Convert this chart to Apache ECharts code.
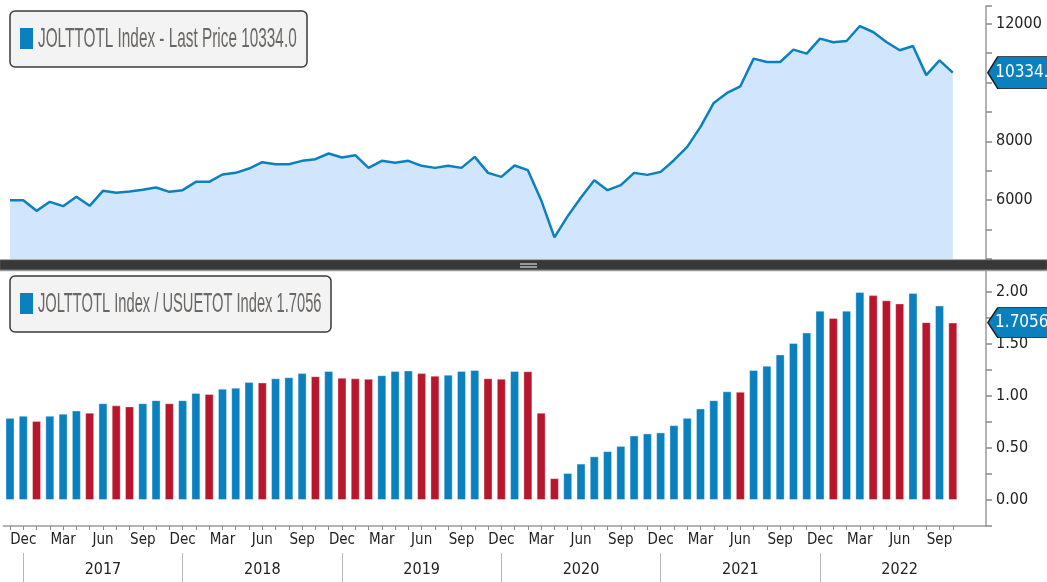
<!DOCTYPE html>
<html>
<head>
<meta charset="utf-8">
<script src="https://cdn.jsdelivr.net/npm/echarts@6.0.0/dist/echarts.min.js"></script>
<style>
	html, body { margin: 0; padding: 0; background: #fff; }
	#chart { width: 1047px; height: 582px; }
</style>
</head>
<body>
<div id="chart"></div>
<script>
	// months on the x axis (last two are empty room before the right axis)
	const months = [
		'2016-11', '2016-12',
		'2017-01', '2017-02', '2017-03', '2017-04', '2017-05', '2017-06', '2017-07', '2017-08', '2017-09', '2017-10', '2017-11', '2017-12',
		'2018-01', '2018-02', '2018-03', '2018-04', '2018-05', '2018-06', '2018-07', '2018-08', '2018-09', '2018-10', '2018-11', '2018-12',
		'2019-01', '2019-02', '2019-03', '2019-04', '2019-05', '2019-06', '2019-07', '2019-08', '2019-09', '2019-10', '2019-11', '2019-12',
		'2020-01', '2020-02', '2020-03', '2020-04', '2020-05', '2020-06', '2020-07', '2020-08', '2020-09', '2020-10', '2020-11', '2020-12',
		'2021-01', '2021-02', '2021-03', '2021-04', '2021-05', '2021-06', '2021-07', '2021-08', '2021-09', '2021-10', '2021-11', '2021-12',
		'2022-01', '2022-02', '2022-03', '2022-04', '2022-05', '2022-06', '2022-07', '2022-08', '2022-09', '2022-10', '2022-11', '2022-12'
	];
	const monthNames = ['Jan', 'Feb', 'Mar', 'Apr', 'May', 'Jun', 'Jul', 'Aug', 'Sep', 'Oct', 'Nov', 'Dec'];
	const lastIdx = 71; // Oct 2022

	// JOLTTOTL Index - job openings (thousands)
	const jolts = [
		6000, 6000, 5637, 5943, 5796, 6113, 5808, 6317, 6249, 6294,
		6351, 6430, 6283, 6340, 6623, 6623, 6872, 6928, 7075, 7290,
		7223, 7223, 7336, 7392, 7586, 7450, 7528, 7098, 7336, 7268,
		7336, 7166, 7098, 7166, 7098, 7472, 6928, 6793, 7177, 7019,
		6000, 4733, 5457, 6091, 6679, 6340, 6509, 6928, 6860, 6962,
		7358, 7811, 8490, 9304, 9644, 9871, 10812, 10697, 10697, 11118,
		10982, 11491, 11366, 11411, 11919, 11716, 11376, 11094, 11240, 10250,
		10754, 10334
	];
	// JOLTTOTL Index / USUETOT Index
	const ratio = [
		0.79, 0.81, 0.76, 0.81, 0.83, 0.86, 0.84, 0.93, 0.91, 0.90,
		0.93, 0.96, 0.93, 0.96, 1.03, 1.02, 1.07, 1.08, 1.135, 1.13,
		1.17, 1.18, 1.22, 1.19, 1.24, 1.175, 1.17, 1.165, 1.20, 1.24,
		1.245, 1.22, 1.195, 1.205, 1.24, 1.25, 1.17, 1.165, 1.24, 1.238,
		0.84, 0.21, 0.26, 0.35, 0.42, 0.47, 0.52, 0.62, 0.64, 0.65,
		0.72, 0.79, 0.88, 0.96, 1.045, 1.04, 1.25, 1.29, 1.40, 1.51,
		1.61, 1.82, 1.75, 1.82, 2.00, 1.97, 1.92, 1.89, 1.99, 1.71,
		1.87, 1.7056
	];
	const lastJolts = '10334.0';
	const lastRatio = '1.7056';
	const legendTop = 'JOLTTOTL Index - Last Price ' + lastJolts;
	const legendBottom = 'JOLTTOTL Index / USUETOT Index ' + lastRatio;

	const BLUE = '#0a80bf';
	const RED = '#b8162d';
	const FONT = "'DejaVu Sans Condensed', 'Liberation Sans Narrow', 'Liberation Sans', sans-serif";
	const LABEL = '#222';

	const monthOf = v => parseInt(v.slice(5), 10);

	const chart = echarts.init(document.getElementById('chart'));

	// price tag shape pointing left at the axis
	const tagPath = 'path://M0,16 L10,0 L80,0 L80,32 L10,32 Z';

	function legendBox(x, y, w, text, sx) {
		return {
			type: 'group',
			children: [{
				type: 'rect',
				shape: { x: x, y: y, width: w, height: 56, r: 5 },
				style: { fill: '#f3f3f3', stroke: '#3a3a3a', lineWidth: 1.5 }
			}, {
				type: 'rect',
				shape: { x: x + 10, y: y + 17, width: 13, height: 21 },
				style: { fill: BLUE }
			}, {
				type: 'text',
				x: x + 28,
				y: y + 28,
				scaleX: sx,
				style: {
					text: text,
					fill: '#6a6866',
					font: "28px 'Liberation Sans', Arial, sans-serif",
					textVerticalAlign: 'middle'
				}
			}]
		};
	}

	const option = {
		animation: false,
		backgroundColor: '#fff',
		grid: [
			{ left: 3.35, right: 61, top: 6, height: 253 },
			{ left: 3.35, right: 61, top: 266, height: 260 }
		],
		xAxis: [{
			gridIndex: 0,
			type: 'category',
			data: months,
			show: false
		}, {
			gridIndex: 1,
			type: 'category',
			data: months,
			position: 'bottom',
			axisLine: { onZero: false, lineStyle: { color: '#9a9a9a', width: 1.5 } },
			axisTick: {
				show: true,
				alignWithLabel: true,
				length: 4,
				interval: (i) => i <= lastIdx,
				lineStyle: { color: '#8a8a8a' }
			},
			axisLabel: {
				interval: (i, v) => i <= lastIdx && monthOf(v) % 3 === 0,
				formatter: v => monthNames[monthOf(v) - 1],
				color: LABEL,
				fontFamily: FONT,
				fontSize: 15,
				margin: 7
			}
		}, {
			// year row under the months
			gridIndex: 1,
			type: 'category',
			data: months,
			position: 'bottom',
			offset: 27,
			axisLine: { show: false, onZero: false },
			axisTick: {
				show: true,
				alignWithLabel: true,
				length: 30,
				interval: (i, v) => i <= lastIdx && monthOf(v) === 12,
				lineStyle: { color: '#b5b5b5' }
			},
			axisLabel: {
				interval: (i, v) => monthOf(v) === 6,
				formatter: v => v.slice(0, 4),
				color: LABEL,
				fontFamily: FONT,
				fontSize: 16,
				margin: 9
			}
		}],
		yAxis: [{
			gridIndex: 0,
			type: 'value',
			position: 'right',
			min: 4000,
			max: 12600,
			interval: 1000,
			splitLine: { show: false },
			axisLine: { show: true, lineStyle: { color: '#9a9a9a', width: 1.5 } },
			axisTick: { show: true, length: 6, lineStyle: { color: '#8a8a8a', width: 1.5 } },
			axisLabel: {
				formatter: v => (v % 2000 === 0 && v > 4000 && v <= 12000) ? String(v) : '',
				color: LABEL,
				fontFamily: FONT,
				fontSize: 16,
				margin: 10
			}
		}, {
			gridIndex: 1,
			type: 'value',
			position: 'right',
			min: -0.25,
			max: 2.25,
			interval: 0.25,
			splitLine: { show: false },
			axisLine: { show: true, lineStyle: { color: '#9a9a9a', width: 1.5 } },
			axisTick: { show: true, length: 6, lineStyle: { color: '#8a8a8a', width: 1.5 } },
			axisLabel: {
				formatter: v => {
					const h = Math.round(v * 100);
					return (h % 50 === 0 && h >= 0 && h <= 200) ? (h / 100).toFixed(2) : '';
				},
				color: LABEL,
				fontFamily: FONT,
				fontSize: 16,
				margin: 10
			}
		}],
		series: [{
			name: legendTop,
			type: 'line',
			xAxisIndex: 0,
			yAxisIndex: 0,
			data: jolts,
			symbol: 'none',
			lineStyle: { color: BLUE, width: 2.5 },
			areaStyle: { color: '#d1e6fc', opacity: 1, origin: 'start' },
			markPoint: {
				symbol: tagPath,
				symbolSize: [80, 32],
				symbolOffset: [75, 0],
				itemStyle: { color: BLUE, borderColor: '#1c1c1c', borderWidth: 1 },
				label: {
					show: true,
					formatter: lastJolts,
					color: '#fff',
					fontFamily: FONT,
					fontSize: 17,
					offset: [-1, 0]
				},
				data: [{ coord: [months[lastIdx], jolts[lastIdx]] }]
			}
		}, {
			name: legendBottom,
			type: 'bar',
			xAxisIndex: 1,
			yAxisIndex: 1,
			data: ratio,
			barWidth: 9,
			itemStyle: {
				// red when the ratio fell from the month before
				color: p => (p.dataIndex > 0 && ratio[p.dataIndex] < ratio[p.dataIndex - 1]) ? RED : BLUE,
				borderColor: 'rgba(255,255,255,0.35)',
				borderWidth: 1
			},
			markPoint: {
				symbol: tagPath,
				symbolSize: [80, 30],
				symbolOffset: [75, 0],
				itemStyle: { color: BLUE, borderColor: '#1c1c1c', borderWidth: 1 },
				label: {
					show: true,
					formatter: lastRatio,
					color: '#fff',
					fontFamily: FONT,
					fontSize: 17,
					offset: [-6, 0]
				},
				data: [{ coord: [months[lastIdx], ratio[lastIdx]] }]
			}
		}],
		graphic: [
			// panel divider
			{
				type: 'rect',
				shape: { x: 0, y: 260, width: 1047, height: 10 },
				style: { fill: '#383838', stroke: '#555', lineWidth: 1 },
				z: 50
			},
			{
				type: 'rect',
				shape: { x: 520, y: 263, width: 17, height: 2 },
				style: { fill: '#999' },
				z: 51
			},
			{
				type: 'rect',
				shape: { x: 520, y: 266, width: 17, height: 2 },
				style: { fill: '#999' },
				z: 51
			},
			{
				type: 'line',
				shape: { x1: 0, y1: 270.5, x2: 1047, y2: 270.5 },
				style: { stroke: '#9a9a9a', lineWidth: 1.5 },
				z: 51
			},
			legendBox(10, 11, 297, legendTop, 0.548),
			legendBox(10, 276, 321, legendBottom, 0.525)
		]
	};

	chart.setOption(option);
</script>
</body>
</html>
